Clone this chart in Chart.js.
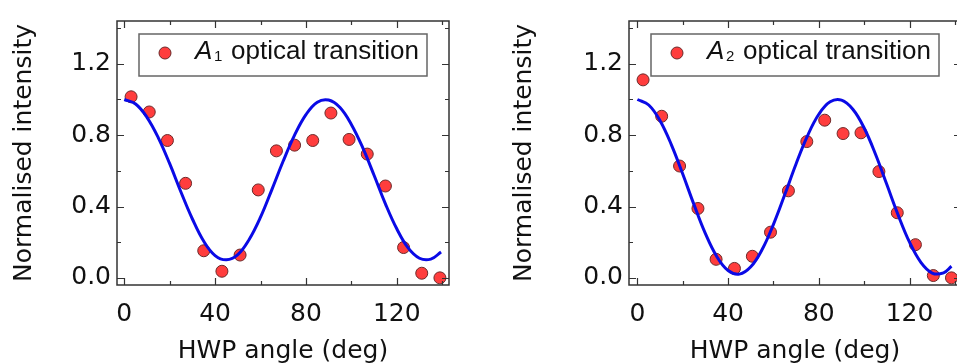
<!DOCTYPE html>
<html lang="en">
<head>
<meta charset="UTF-8">
<title>HWP angle dependence</title>
<script src="https://cdn.jsdelivr.net/npm/chart.js"></script>
<style>
  html, body { margin: 0; padding: 0; background: #fff; overflow: hidden; }
  body { width: 957px; height: 363px; position: relative; }
  canvas { position: absolute; top: 0; }
  #chartA1 { left: 0; }
  #chartA2 { left: 500px; }
</style>
</head>
<body>
<canvas id="chartA1" width="478" height="363"></canvas>
<canvas id="chartA2" width="480" height="363"></canvas>
<script>
// measured points, HWP angle (deg) vs normalised intensity
const anglesA1 = [3, 11, 19, 27, 35, 43, 51, 59, 67, 75, 83, 91, 99, 107, 115, 123, 131, 139];
const intensityA1 = [1.015, 0.93, 0.77, 0.53, 0.152, 0.037, 0.128, 0.493, 0.712, 0.744, 0.77, 0.924, 0.776, 0.694, 0.515, 0.17, 0.026, 0.0];
const anglesA2 = [2.5, 10.7, 18.6, 26.7, 34.7, 42.8, 50.7, 58.7, 66.6, 74.7, 82.6, 90.7, 98.6, 106.5, 114.6, 122.6, 130.5, 138.5];
const intensityA2 = [1.11, 0.906, 0.627, 0.389, 0.104, 0.053, 0.121, 0.256, 0.488, 0.764, 0.884, 0.809, 0.813, 0.596, 0.365, 0.186, 0.013, 0.0];

// fitted curves, every 5 deg
const fitAnglesA1 = [0, 5, 10, 15, 20, 25, 30, 35, 40, 45, 50, 55, 60, 65, 70, 75, 80, 85, 90, 95, 100, 105, 110, 115, 120, 125, 130, 135, 139.5];
const fitA1 = [1.0, 0.975, 0.9, 0.785, 0.64, 0.48, 0.33, 0.205, 0.125, 0.101, 0.13, 0.215, 0.34, 0.495, 0.655, 0.8, 0.915, 0.985, 0.997, 0.955, 0.86, 0.73, 0.575, 0.415, 0.275, 0.168, 0.11, 0.105, 0.145];
const fitAnglesA2 = [0, 5, 10, 15, 20, 25, 30, 35, 40, 45, 50, 55, 60, 65, 70, 75, 80, 85, 90, 95, 100, 105, 110, 115, 120, 125, 130, 135, 138.5];
const fitA2 = [1.0, 0.969, 0.881, 0.746, 0.582, 0.409, 0.248, 0.12, 0.041, 0.021, 0.062, 0.159, 0.3, 0.467, 0.64, 0.796, 0.917, 0.987, 0.996, 0.945, 0.84, 0.693, 0.523, 0.352, 0.2, 0.087, 0.027, 0.028, 0.065];

const xTickLabels = [0, 40, 80, 120];
const xMinorTicks = [20, 60, 100, 140];
const yTickLabels = [0, 0.4, 0.8, 1.2];
const yMinorTicks = [0.2, 0.6, 1.0, 1.4];

const axisFont = {family: 'DejaVu Sans', size: 25};
const textColor = '#111';

function toPoints(xs, ys) {
  return xs.map((x, i) => ({x: x, y: ys[i]}));
}

// box around the plot with inward ticks on all four sides
const frameTicks = {
  id: 'frameTicks',
  afterDraw(chart) {
    const {ctx, chartArea: a, scales: {x, y}} = chart;
    ctx.save();
    ctx.strokeStyle = '#333';
    ctx.lineWidth = 1.5;
    ctx.strokeRect(a.left, a.top, a.right - a.left, a.bottom - a.top);
    ctx.beginPath();
    const xt = (vals, len) => vals.forEach(v => {
      const px = Math.round(x.getPixelForValue(v)) + 0.5;
      if (px < a.left || px > a.right) return;
      ctx.moveTo(px, a.bottom); ctx.lineTo(px, a.bottom - len);
      ctx.moveTo(px, a.top); ctx.lineTo(px, a.top + len);
    });
    const yt = (vals, len) => vals.forEach(v => {
      const py = Math.round(y.getPixelForValue(v)) + 0.5;
      if (py < a.top || py > a.bottom) return;
      ctx.moveTo(a.left, py); ctx.lineTo(a.left + len, py);
      ctx.moveTo(a.right, py); ctx.lineTo(a.right - len, py);
    });
    xt(xTickLabels, 7); xt(xMinorTicks, 4);
    yt(yTickLabels, 7); yt(yMinorTicks, 4);
    ctx.lineWidth = 1.2;
    ctx.stroke();
    ctx.restore();
  }
};

// legend drawn inside the plot (italic A with a subscript)
const insetLegend = {
  id: 'insetLegend',
  afterDraw(chart, args, opts) {
    const {ctx, chartArea: a} = chart;
    const bx = a.left + 22, by = a.top + 13, bw = 288, bh = 42;
    ctx.save();
    ctx.fillStyle = '#fff';
    ctx.fillRect(bx, by, bw, bh);
    ctx.strokeStyle = '#666';
    ctx.lineWidth = 1.5;
    ctx.strokeRect(bx, by, bw, bh);

    ctx.beginPath();
    ctx.arc(bx + 26, by + 19, 6, 0, Math.PI * 2);
    ctx.fillStyle = '#ff3d3d';
    ctx.fill();
    ctx.strokeStyle = '#6b2a2a';
    ctx.lineWidth = 1;
    ctx.stroke();

    ctx.fillStyle = textColor;
    ctx.textBaseline = 'alphabetic';
    ctx.textAlign = 'left';
    ctx.font = 'italic 26px "Liberation Sans"';
    ctx.fillText('A', bx + 56, by + 25);
    ctx.font = '15px "Liberation Sans"';
    ctx.fillText(opts.sub, bx + 75, by + 27);
    ctx.font = '26px "Liberation Sans"';
    ctx.fillText('optical transition', bx + 92, by + 25);
    ctx.restore();
  }
};

function makeChart(id, pts, fit, sub, xMin, xMax, yAxisWidth, padRight) {
  return new Chart(document.getElementById(id), {
    type: 'scatter',
    data: {
      datasets: [
        {
          data: fit,
          showLine: true,
          borderColor: '#0a0ae6',
          borderWidth: 3,
          pointRadius: 0,
          tension: 0.4,
          order: 0
        },
        {
          data: pts,
          pointRadius: 6,
          pointBackgroundColor: '#ff3d3d',
          pointBorderColor: '#6b2a2a',
          pointBorderWidth: 1,
          order: 1
        }
      ]
    },
    options: {
      responsive: false,
      animation: false,
      devicePixelRatio: 1,
      layout: {padding: {top: 15, right: padRight, left: 0, bottom: 0}},
      plugins: {
        legend: {display: false},
        tooltip: {enabled: false},
        insetLegend: {sub: sub}
      },
      scales: {
        x: {
          min: xMin, max: xMax,
          afterBuildTicks: s => { s.ticks = xTickLabels.map(v => ({value: v})); },
          afterFit: s => { s.height = 78; },
          grid: {display: false, drawTicks: false},
          border: {display: false},
          ticks: {padding: 14, color: textColor, font: axisFont, maxRotation: 0},
          title: {display: true, text: 'HWP angle (deg)', color: textColor, font: axisFont, padding: {top: 0, bottom: -3}}
        },
        y: {
          min: -0.04, max: 1.44,
          afterBuildTicks: s => { s.ticks = yTickLabels.map(v => ({value: v})); },
          afterFit: s => { s.width = yAxisWidth; },
          grid: {display: false, drawTicks: false},
          border: {display: false},
          ticks: {padding: 6, color: textColor, font: axisFont, callback: v => v.toFixed(1)},
          title: {display: true, text: 'Normalised intensity', color: textColor, font: axisFont, padding: {top: 9, bottom: 0}}
        }
      }
    },
    plugins: [frameTicks, insetLegend]
  });
}

makeChart('chartA1', toPoints(anglesA1, intensityA1), toPoints(fitAnglesA1, fitA1), '1', -3.2, 143.0, 117, 29);
makeChart('chartA2', toPoints(anglesA2, intensityA2), toPoints(fitAnglesA2, fitA2), '2', -3.7, 142.7, 129, 19);
</script>
</body>
</html>
